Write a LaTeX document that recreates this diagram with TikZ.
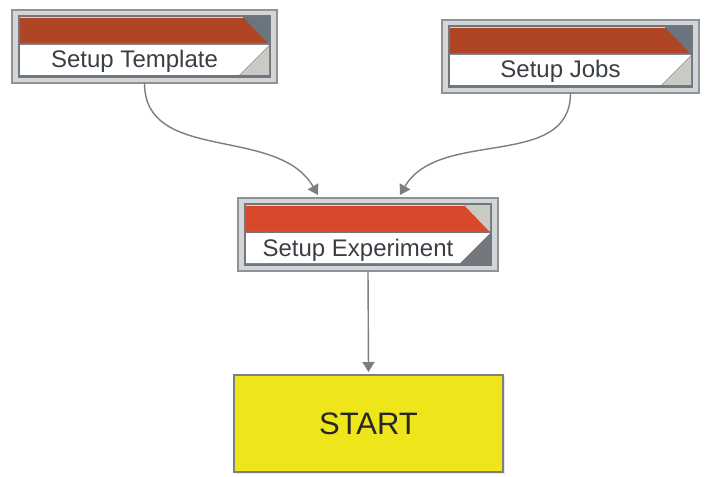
\documentclass[tikz,border=0pt]{standalone}
\usepackage{fontspec}
\setmainfont{Liberation Sans}
\usetikzlibrary{arrows.meta,shadows}
\definecolor{framegray}{HTML}{8E9398}
\definecolor{framefill}{HTML}{D3D6D8}
\definecolor{innergray}{HTML}{71777D}
\definecolor{rustred}{HTML}{B04526}
\definecolor{brightred}{HTML}{D9482A}
\definecolor{slate}{HTML}{6B7580}
\definecolor{pale}{HTML}{C9CAC3}
\definecolor{startyellow}{HTML}{EEE61A}
\definecolor{wiregray}{HTML}{7E7E82}
\definecolor{labelgray}{HTML}{3A3F44}

\newcommand\taskbox[6]{%
\node[taskframe,minimum width=#4pt,anchor=north west](#1)at(#2,#3){};
\begin{scope}[shift={(#1.north west)},#6]
\fill[innergray](6,5)rectangle(#4-6,68);
\fill[topred](8,7)--(#4-34,7)--(#4-9,33)--(8,33)--cycle;
\draw[peach,line width=1pt](8,7.5)--(#4-34,7.5);
\fill[cornertop](#4-34,7)--(#4-8,7)--(#4-8,33)--(#4-9,33)--cycle;
\fill[white](8,35)--(#4-8,35)--(#4-38,65)--(8,65)--cycle;
\fill[cornerbottom](#4-8,36)--(#4-8,65)--(#4-37,65)--cycle;
\node[tasklabel]at(#4/2-10,58){#5};
\end{scope}}

\begin{document}
\begin{tikzpicture}[x=1pt,y=-1pt,
taskframe/.style={draw=framegray,fill=framefill,line width=1.5pt,minimum height=73pt,inner sep=0pt,outer sep=0pt},
tasklabel/.style={anchor=base,text=labelgray,font=\fontsize{24}{28}\selectfont},
topred/.style={fill=rustred},peach/.style={color=orange!40!white},
cornertop/.style={fill=slate},cornerbottom/.style={fill=pale},
wire/.style={draw=wiregray,line width=1.4pt,-{Triangle[length=10pt,width=12pt]}}]
\useasboundingbox(0,0)rectangle(708,476);
\taskbox{tmpl}{12}{10}{265}{Setup Template}{}
\taskbox{jobs}{442}{20}{257}{Setup Jobs}{}
\taskbox{expt}{238}{198}{260}{Setup Experiment}{topred/.style={fill=brightred},cornertop/.style={fill=pale},cornerbottom/.style={fill=innergray}}
\node[draw=gray,line width=1.2pt,fill=startyellow,minimum width=269pt,minimum height=97pt,outer sep=0pt,
drop shadow={shadow xshift=2pt,shadow yshift=-2pt,fill=gray!40},text=black!85,font=\fontsize{31}{36}\selectfont](start)at(368.5,423.5){START};
\draw[wire](tmpl.south)to[out=-90,in=120]([xshift=-50pt,yshift=3pt]expt.north);
\draw[wire](jobs.south)to[out=-90,in=60]([xshift=32pt,yshift=3pt]expt.north);
\draw[wire](expt.south)--([yshift=3pt]start.north);
\end{tikzpicture}
\end{document}
